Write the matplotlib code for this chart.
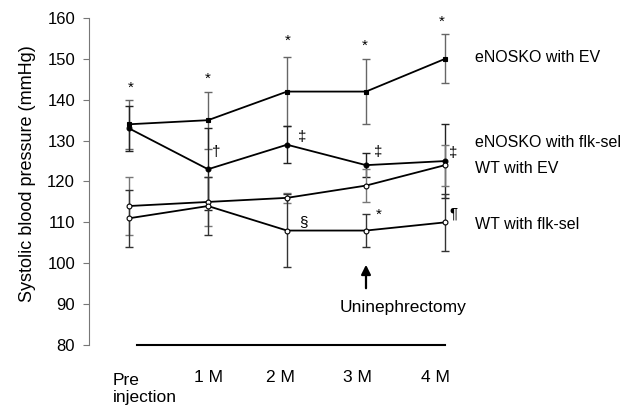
import matplotlib
matplotlib.use("Agg")
import matplotlib.pyplot as plt
import numpy as np

plt.rcParams['font.family'] = ['Liberation Sans', 'DejaVu Sans']

timepoints = ["Pre\ninjection", "1 M", "2 M", "3 M", "4 M"]
series_names = ["eNOSKO with EV", "eNOSKO with flk-sel", "WT with EV", "WT with flk-sel"]
ko_ev = [134, 135, 142, 142, 150]
ko_ev_err = [6, 7, 8.5, 8, 6]
ko_flk = [133, 123, 129, 124, 125]
ko_flk_err = [5.5, 10, 4.5, 3, 9]
wt_ev = [114, 115, 116, 119, 124]
wt_ev_err = [7, 6, 1.2, 4, 5]
wt_flk = [111, 114, 108, 108, 110]
wt_flk_err = [7, 7, 9, 4, 7]
yticks = [80, 90, 100, 110, 120, 130, 140, 150, 160]

W, H = 633, 407
fig = plt.figure(figsize=(W/100, H/100), dpi=100)
ax = fig.add_axes([89/W, 1-345/H, (W-89)/W, (345-18)/H])
x = np.arange(len(timepoints))
px = 79.0
ax.set_xlim((89-129)/px, (W-129)/px)
ax.set_ylim(80, 160)

styles = [
    (ko_ev, ko_ev_err, 's', 'black', '#666666'),
    (ko_flk, ko_flk_err, 'o', 'black', '#222222'),
    (wt_ev, wt_ev_err, 'o', 'white', '#777777'),
    (wt_flk, wt_flk_err, 'o', 'white', '#333333'),
]
for vals, err, mk, mfc, ec in styles:
    ax.errorbar(x, vals, yerr=err, fmt='none', ecolor=ec, elinewidth=1.0,
                capsize=3.2, capthick=1.0, zorder=2, clip_on=False)
    ax.plot(x, vals, color='black', lw=1.3, marker=mk, ms=3 if mk == 's' else 3.5,
            mfc=mfc, mec='black', mew=0.8, zorder=3, clip_on=False)

for s in ['top', 'right', 'bottom']:
    ax.spines[s].set_visible(False)
ax.spines['left'].set_color('#777777')
ax.set_xticks([])
ax.set_yticks(yticks)
ax.tick_params(axis='y', direction='out', length=4, color='#777777', labelsize=12, pad=6)
fig.text(27/W, 1-174/H, "Systolic blood pressure (mmHg)", rotation=90,
         ha='center', va='center', fontsize=13)

# baseline under the chart
ax.plot([(137-129)/px, 4], [80, 80], color='black', lw=1.5, clip_on=False)

def ypix(py):
    return 160 - (py - 18) / ((345 - 18) / 80)

# x labels
ax.text((113-129)/px, ypix(389), timepoints[0], ha='left', va='center', fontsize=12.5,
        clip_on=False, linespacing=1.2)
for i, dx in zip(range(1, 5), [0, -7, -9, -10]):
    ax.text(i + dx/px, ypix(378), timepoints[i], ha='center', va='center', fontsize=12.5, clip_on=False)

# series labels
label_y = [58, 143, 169, 225]
for name, py in zip(series_names, label_y):
    ax.text((475-129)/px, ypix(py), name, ha='left', va='center', fontsize=11.5, clip_on=False)

# significance marks
marks = [
    ("*", 131, 88), ("*", 208, 79), ("*", 288, 41), ("*", 365, 46), ("*", 442, 22),
    ("\u2020", 216, 152), ("\u2021", 302, 137), ("\u2021", 378, 152), ("\u2021", 453, 153),
    ("\u00a7", 303, 222), ("*", 379, 215), ("\u00b6", 454, 214),
]
for m, mx, my in marks:
    ax.text((mx-129)/px, ypix(my), m, ha='center', va='center', fontsize=11, clip_on=False)

# uninephrectomy arrow
ax.annotate("", xy=(3, ypix(262)), xytext=(3, ypix(291)),
            arrowprops=dict(arrowstyle='-|>', color='black', lw=1.6, mutation_scale=14))
ax.text((403-129)/px, ypix(308), "Uninephrectomy", ha='center', va='center', fontsize=12.5)

fig.savefig("out.png", dpi=100)
